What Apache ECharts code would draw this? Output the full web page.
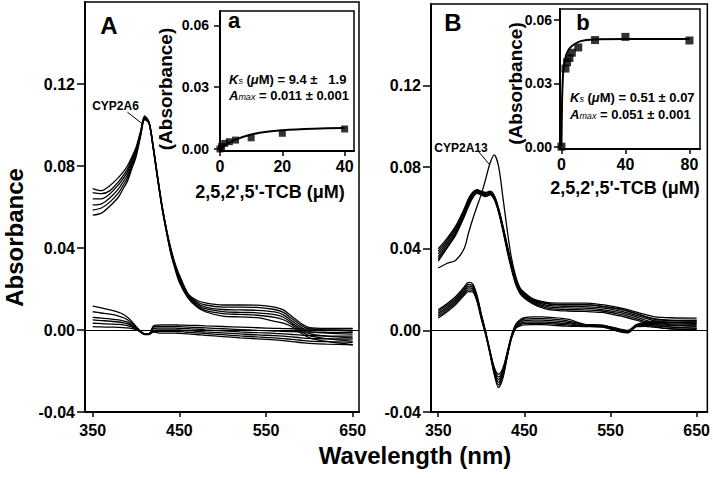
<!DOCTYPE html>
<html><head><meta charset="utf-8">
<script src="https://cdn.jsdelivr.net/npm/echarts@6/dist/echarts.min.js"></script>
<style>html,body{margin:0;padding:0;background:#fff}#c{width:713px;height:478px}</style>
</head><body><div id="c"></div>
<script>
// ---------- data ----------
const wl = [350,360,370,380,385,390,395,400,405,410,415,420,425,430,435,440,445,450,460,470,480,500,520,540,560,570,580,590,600,620,650];

// Panel A (CYP2A6) absolute spectra
const A_top_1 = [0.069,0.068,0.0705,0.0745,0.077,0.080,0.0843,0.089,0.0965,0.1045,0.1015,0.0893,0.0747,0.0608,0.0495,0.0400,0.0325,0.0268,0.0178,0.0145,0.0132,0.0122,0.0122,0.0121,0.0112,0.0098,0.0066,0.0033,0.0012,0.0008,0.0008];
const A_top_2 = [0.067,0.0665,0.068,0.0725,0.0752,0.0785,0.0832,0.0882,0.0960,0.1038,0.1013,0.0890,0.0744,0.0605,0.0492,0.0395,0.0320,0.0262,0.0172,0.0138,0.0122,0.0112,0.0112,0.0110,0.0100,0.0086,0.0055,0.0024,0.0005,0.0000,-0.0005];
const A_top_3 = [0.064,0.064,0.0665,0.0710,0.0738,0.0770,0.0822,0.0875,0.0955,0.1035,0.1012,0.0887,0.0741,0.0602,0.0489,0.0390,0.0315,0.0255,0.0168,0.0132,0.0112,0.0100,0.0098,0.0096,0.0088,0.0074,0.0044,0.0014,-0.0008,-0.0015,-0.0020];
const A_top_4 = [0.061,0.0615,0.0645,0.0690,0.0722,0.0755,0.0810,0.0865,0.0950,0.1032,0.1011,0.0884,0.0738,0.0600,0.0486,0.0385,0.0310,0.0248,0.0164,0.0126,0.0104,0.0090,0.0086,0.0084,0.0075,0.0062,0.0034,0.0005,-0.0018,-0.0030,-0.0038];
const A_top_5 = [0.0585,0.0595,0.0625,0.0670,0.0705,0.0740,0.0798,0.0855,0.0945,0.1029,0.1009,0.0881,0.0735,0.0597,0.0483,0.0380,0.0304,0.0240,0.0160,0.0120,0.0096,0.0080,0.0076,0.0072,0.0062,0.0050,0.0026,-0.0004,-0.0028,-0.0042,-0.0055];
const A_top_6 = [0.056,0.057,0.0605,0.0650,0.0688,0.0725,0.0785,0.0845,0.0940,0.1026,0.1008,0.0878,0.0732,0.0595,0.0480,0.0375,0.0298,0.0232,0.0156,0.0114,0.0089,0.0068,0.0064,0.0060,0.0042,0.0033,0.0016,-0.0014,-0.0038,-0.0056,-0.0072];

// Panel A difference spectra
const A_diff_1 = [0.0117,0.0108,0.0098,0.0086,0.0077,0.0062,0.0042,0.0018,-0.0005,-0.0018,-0.0018,0.0020,0.0024,0.0025,0.0025,0.0025,0.0025,0.0024,0.0023,0.0022,0.0020,0.0017,0.0014,0.0011,0.0008,0.0007,0.0006,0.0005,0.0004,0.0004,0.0005];
const A_diff_2 = [0.0089,0.0083,0.0077,0.0068,0.0061,0.0050,0.0034,0.0014,-0.0006,-0.0019,-0.0018,0.0014,0.0017,0.0017,0.0017,0.0017,0.0017,0.0016,0.0014,0.0012,0.0010,0.0006,0.0002,-0.0002,-0.0005,-0.0007,-0.0008,-0.0009,-0.0010,-0.0011,-0.0012];
const A_diff_3 = [0.0062,0.0058,0.0054,0.0049,0.0044,0.0038,0.0026,0.0010,-0.0007,-0.0020,-0.0019,0.0006,0.0009,0.0009,0.0009,0.0009,0.0009,0.0008,0.0006,0.0004,0.0001,-0.0004,-0.0009,-0.0013,-0.0016,-0.0019,-0.0022,-0.0025,-0.0027,-0.0029,-0.0030];
const A_diff_4 = [0.0049,0.0046,0.0043,0.0039,0.0035,0.0030,0.0021,0.0008,-0.0008,-0.0021,-0.0020,-0.0002,0.0001,0.0001,0.0001,0.0001,0.0001,0.0000,-0.0003,-0.0006,-0.0009,-0.0014,-0.0019,-0.0024,-0.0027,-0.0030,-0.0034,-0.0038,-0.0041,-0.0043,-0.0045];
const A_diff_5 = [0.0033,0.0031,0.0029,0.0027,0.0025,0.0021,0.0015,0.0005,-0.0009,-0.0021,-0.0021,-0.0006,-0.0007,-0.0007,-0.0007,-0.0007,-0.0007,-0.0008,-0.0011,-0.0014,-0.0017,-0.0023,-0.0029,-0.0034,-0.0038,-0.0042,-0.0046,-0.0050,-0.0054,-0.0057,-0.0060];
const A_diff_6 = [0.0016,0.0015,0.0014,0.0013,0.0012,0.0010,0.0007,0.0002,-0.0010,-0.0022,-0.0022,-0.0010,-0.0014,-0.0015,-0.0015,-0.0015,-0.0015,-0.0016,-0.0019,-0.0022,-0.0026,-0.0032,-0.0038,-0.0043,-0.0048,-0.0052,-0.0057,-0.0061,-0.0065,-0.0069,-0.0072];

// Panel B (CYP2A13) absolute spectra
const B_ref = [0.0306,0.0328,0.0343,0.0400,0.0475,0.0545,0.0607,0.0668,0.0740,0.0818,0.0860,0.0805,0.0655,0.0494,0.0355,0.0265,0.0208,0.0186,0.0152,0.0138,0.0130,0.0125,0.0125,0.0118,0.0105,0.0095,0.0082,0.0068,0.0055,0.0048,0.0045];
const B_top_1 = [0.0400,0.0450,0.0510,0.0595,0.0645,0.0678,0.0690,0.0682,0.0676,0.0682,0.0662,0.0600,0.0515,0.0420,0.0330,0.0255,0.0205,0.0182,0.0155,0.0142,0.0135,0.0134,0.0134,0.0126,0.0112,0.0102,0.0090,0.0078,0.0068,0.0062,0.0060];
const B_top_2 = [0.0388,0.0440,0.0500,0.0587,0.0638,0.0673,0.0687,0.0679,0.0672,0.0679,0.0658,0.0596,0.0510,0.0414,0.0324,0.0249,0.0200,0.0177,0.0150,0.0136,0.0128,0.0126,0.0126,0.0118,0.0104,0.0094,0.0082,0.0069,0.0058,0.0050,0.0048];
const B_top_3 = [0.0375,0.0430,0.0490,0.0578,0.0630,0.0668,0.0684,0.0676,0.0668,0.0676,0.0654,0.0592,0.0505,0.0408,0.0318,0.0243,0.0195,0.0172,0.0145,0.0130,0.0121,0.0118,0.0117,0.0110,0.0096,0.0086,0.0074,0.0060,0.0048,0.0038,0.0035];
const B_top_4 = [0.0362,0.0420,0.0480,0.0570,0.0622,0.0662,0.0680,0.0672,0.0664,0.0673,0.0650,0.0588,0.0500,0.0402,0.0312,0.0237,0.0190,0.0167,0.0140,0.0124,0.0114,0.0110,0.0109,0.0102,0.0088,0.0078,0.0066,0.0051,0.0038,0.0027,0.0022];
const B_top_5 = [0.0350,0.0410,0.0472,0.0562,0.0614,0.0656,0.0676,0.0668,0.0660,0.0669,0.0646,0.0584,0.0495,0.0396,0.0306,0.0231,0.0185,0.0162,0.0135,0.0118,0.0107,0.0102,0.0101,0.0095,0.0080,0.0070,0.0058,0.0043,0.0029,0.0016,0.0011];
const B_top_6 = [0.0340,0.0402,0.0465,0.0555,0.0606,0.0650,0.0672,0.0664,0.0656,0.0665,0.0642,0.0580,0.0490,0.0390,0.0300,0.0225,0.0180,0.0158,0.0130,0.0112,0.0101,0.0095,0.0093,0.0088,0.0072,0.0062,0.0050,0.0036,0.0020,0.0007,0.0003];

// Panel B difference spectra
const B_diff_1 = [0.0101,0.0130,0.0165,0.0212,0.0235,0.0228,0.0172,0.0080,-0.0005,-0.0098,-0.0180,-0.0215,-0.0185,-0.0108,-0.0025,0.0030,0.0052,0.0062,0.0066,0.0066,0.0064,0.0055,0.0030,0.0026,0.0008,0.0000,0.0028,0.0040,0.0045,0.0048,0.0050];
const B_diff_2 = [0.0093,0.0122,0.0157,0.0204,0.0226,0.0220,0.0166,0.0076,-0.0008,-0.0101,-0.0187,-0.0228,-0.0195,-0.0113,-0.0028,0.0026,0.0046,0.0055,0.0058,0.0058,0.0056,0.0047,0.0027,0.0024,0.0004,-0.0004,0.0026,0.0036,0.0040,0.0040,0.0040];
const B_diff_3 = [0.0085,0.0114,0.0149,0.0196,0.0217,0.0212,0.0160,0.0071,-0.0011,-0.0104,-0.0194,-0.0241,-0.0205,-0.0118,-0.0031,0.0022,0.0040,0.0048,0.0050,0.0050,0.0048,0.0040,0.0025,0.0022,0.0001,-0.0007,0.0024,0.0032,0.0034,0.0032,0.0030];
const B_diff_4 = [0.0077,0.0106,0.0141,0.0188,0.0208,0.0204,0.0154,0.0066,-0.0014,-0.0107,-0.0201,-0.0254,-0.0215,-0.0123,-0.0034,0.0018,0.0034,0.0041,0.0042,0.0042,0.0040,0.0033,0.0023,0.0020,-0.0002,-0.0009,0.0022,0.0028,0.0028,0.0024,0.0020];
const B_diff_5 = [0.0069,0.0098,0.0133,0.0180,0.0199,0.0196,0.0148,0.0061,-0.0017,-0.0110,-0.0208,-0.0267,-0.0225,-0.0128,-0.0037,0.0014,0.0028,0.0034,0.0035,0.0035,0.0033,0.0027,0.0021,0.0018,-0.0004,-0.0011,0.0020,0.0024,0.0022,0.0016,0.0010];
const B_diff_6 = [0.0061,0.0090,0.0125,0.0172,0.0190,0.0188,0.0142,0.0056,-0.0020,-0.0113,-0.0215,-0.0280,-0.0235,-0.0133,-0.0040,0.0010,0.0022,0.0027,0.0028,0.0028,0.0026,0.0021,0.0019,0.0016,-0.0006,-0.0012,0.0018,0.0020,0.0016,0.0008,0.0003];

// Inset a (CYP2A6 binding)
const tcbA_conc = [0, 0.5, 1.5, 3, 5, 10, 20, 40];
const tcbA_abs  = [0, 0.0012, 0.0027, 0.0035, 0.0043, 0.0054, 0.0076, 0.0097];
const fitA_x = [0, 2, 5, 10, 15, 20, 30, 40];
const fitA_y = [0, 0.0022, 0.0045, 0.0070, 0.0084, 0.0091, 0.0098, 0.0102];

// Inset b (CYP2A13 binding)
const tcbB_conc = [0, 2.5, 3.5, 5, 6.5, 10.5, 21, 40, 80];
const tcbB_abs  = [0, 0.037, 0.040, 0.042, 0.0445, 0.047, 0.0505, 0.052, 0.0503];
const fitB_x = [0, 0.4, 0.8, 1.2, 2, 3, 5, 8, 12, 20, 40, 80];
const fitB_y = [0, 0.022, 0.031, 0.036, 0.040, 0.0435, 0.0465, 0.0485, 0.050, 0.0508, 0.051, 0.051];

// tick values
const mainXTicks = [350, 450, 550, 650];
const mainYTicks = [-0.04, 0, 0.04, 0.08, 0.12];
const insetATicksX = [0, 20, 40];
const insetBTicksX = [0, 40, 80];
const insetYTicks = [0, 0.03, 0.06];

// ---------- chart ----------
const FF = '"Liberation Sans", Arial, Helvetica, sans-serif';
const chart = echarts.init(document.getElementById('c'), null, {renderer: 'svg'});
function pair(xs, ys) { return ys.map((v, i) => [xs[i], v]); }

function xAx(gi, min, max, ticks, fs, margin, tickLen) {
  return { type: 'value', gridIndex: gi, min: min, max: max,
    axisLine: { onZero: false, lineStyle: { color: '#000', width: 2 } },
    axisTick: { show: true, customValues: ticks, length: tickLen, lineStyle: { color: '#000', width: 1.5 } },
    axisLabel: { customValues: ticks, color: '#000', fontFamily: FF, fontWeight: 'bold', fontSize: fs, margin: margin },
    splitLine: { show: false } };
}
function yAx(gi, min, max, ticks, fs, margin, tickLen) {
  return { type: 'value', gridIndex: gi, min: min, max: max,
    axisLine: { onZero: false, lineStyle: { color: '#000', width: 2 } },
    axisTick: { show: true, customValues: ticks, length: tickLen, lineStyle: { color: '#000', width: 1.5 } },
    axisLabel: { customValues: ticks, color: '#000', fontFamily: FF, fontWeight: 'bold', fontSize: fs, margin: margin,
      formatter: v => (Math.abs(v) < 1e-9 ? 0 : v).toFixed(2) },
    splitLine: { show: false } };
}
function spec(arr, gi, extra) {
  return Object.assign({ type: 'line', xAxisIndex: gi, yAxisIndex: gi, data: pair(wl, arr),
    symbol: 'none', smooth: 0.3, silent: true, animation: false,
    lineStyle: { color: '#000', width: 1.3 } }, extra || {});
}
function guide(leader) {
  return { markLine: { silent: true, symbol: ['none', 'none'], label: { show: false }, animation: false,
    lineStyle: { color: '#000', width: 1, type: 'solid' },
    data: [ { yAxis: 0 }, leader ] } };
}

const series = [];
series.push(spec(A_top_1, 0, guide([{ coord: [390, 0.1063] }, { coord: [407.5, 0.1005] }])));
[A_top_2, A_top_3, A_top_4, A_top_5, A_top_6, A_diff_1, A_diff_2, A_diff_3, A_diff_4, A_diff_5, A_diff_6]
  .forEach(a => series.push(spec(a, 0)));
series.push(spec(B_ref, 1, guide([{ coord: [397, 0.0876] }, { coord: [409.7, 0.0812] }])));
[B_top_1, B_top_2, B_top_3, B_top_4, B_top_5, B_top_6, B_diff_1, B_diff_2, B_diff_3, B_diff_4, B_diff_5, B_diff_6]
  .forEach(a => series.push(spec(a, 1)));

series.push({ type: 'line', xAxisIndex: 2, yAxisIndex: 2, data: pair(fitA_x, fitA_y), symbol: 'none', smooth: 0.3,
  silent: true, animation: false, lineStyle: { color: '#000', width: 2 } });
series.push({ type: 'scatter', xAxisIndex: 2, yAxisIndex: 2, data: pair(tcbA_conc, tcbA_abs), symbol: 'rect', symbolSize: 7,
  silent: true, animation: false, itemStyle: { color: '#000' } });
series.push({ type: 'line', xAxisIndex: 3, yAxisIndex: 3, data: pair(fitB_x, fitB_y), symbol: 'none', smooth: 0.2,
  silent: true, animation: false, lineStyle: { color: '#000', width: 2 } });
series.push({ type: 'scatter', xAxisIndex: 3, yAxisIndex: 3, data: pair(tcbB_conc, tcbB_abs), symbol: 'rect', symbolSize: 8,
  silent: true, animation: false, itemStyle: { color: '#000' } });

function txt(s, x, y, size, opts) {
  opts = opts || {};
  return { type: 'text', x: x, y: y, rotation: opts.rot || 0, silent: true, z: 100,
    style: { text: s, fill: '#000', font: (opts.weight || 'bold') + ' ' + size + 'px ' + FF,
      textAlign: opts.align || 'center', textVerticalAlign: 'middle', align: opts.align || 'center', verticalAlign: 'middle',
      rich: opts.rich } };
}
const richKs = {
  k: { fontFamily: FF, fontWeight: 'bold', fontStyle: 'italic', fontSize: 13 },
  s: { fontFamily: FF, fontWeight: 'normal', fontStyle: 'italic', fontSize: 9, verticalAlign: 'bottom' },
  m: { fontFamily: FF, fontWeight: 'bold', fontStyle: 'italic', fontSize: 13 },
  n: { fontFamily: FF, fontWeight: 'bold', fontSize: 13 }
};

const graphic = [
  txt('Absorbance', 14.5, 237.5, 24, { rot: Math.PI / 2 }),
  txt('Wavelength (nm)', 415, 455, 24),
  txt('A', 109, 25, 24),
  txt('B', 453, 22.5, 24),
  txt('a', 234, 20.6, 22),
  txt('b', 583, 22, 22),
  txt('CYP2A6', 115.5, 106, 12),
  txt('CYP2A13', 461, 147.5, 12),
  txt('(Absorbance)', 165.5, 89, 19, { rot: Math.PI / 2 }),
  txt('(Absorbance)', 515.5, 83.5, 19, { rot: Math.PI / 2 }),
  txt("2,5,2',5'-TCB (\u03bcM)", 270, 192, 18),
  txt("2,5,2',5'-TCB (\u03bcM)", 625, 188, 18),
  txt('{k|K}{s|s}{n| (}{m|\u03bc}{n|M) = 9.4 \u00b1\u00a0\u00a0 1.9}', 229, 79, 13, { align: 'left', rich: richKs }),
  txt('{k|A}{s|max}{n| = 0.011 \u00b1 0.001}', 229, 95, 13, { align: 'left', rich: richKs }),
  txt('{k|K}{s|s}{n| (}{m|\u03bc}{n|M) = 0.51 \u00b1 0.07}', 570, 97, 13, { align: 'left', rich: richKs }),
  txt('{k|A}{s|max}{n| = 0.051 \u00b1 0.001}', 570, 114, 13, { align: 'left', rich: richKs })
];

const option = {
  animation: false,
  backgroundColor: '#fff',
  grid: [
    { left: 85, top: 2, width: 274, height: 410, show: true, borderColor: '#000', borderWidth: 1.5, backgroundColor: 'transparent' },
    { left: 431, top: 4, width: 278, height: 408, show: true, borderColor: '#000', borderWidth: 1.5, backgroundColor: 'transparent' },
    { left: 220, top: 11, width: 134, height: 140, show: true, borderColor: '#000', borderWidth: 1.5, backgroundColor: '#fff' },
    { left: 560, top: 9, width: 140, height: 140, show: true, borderColor: '#000', borderWidth: 1.5, backgroundColor: '#fff' }
  ],
  xAxis: [
    xAx(0, 341.1, 657.3, mainXTicks, 16, 10, 5),
    xAx(1, 341.6, 662.4, mainXTicks, 16, 10, 5),
    xAx(2, 0, 43, insetATicksX, 16, 7, 5),
    xAx(3, -0.9, 86.6, insetBTicksX, 16, 7, 5)
  ],
  yAxis: [
    yAx(0, -0.04, 0.16, mainYTicks, 16, 10, 8),
    yAx(1, -0.04, 0.16, mainYTicks, 16, 10, 8),
    yAx(2, -0.001, 0.067, insetYTicks, 14, 11, 6),
    yAx(3, -0.0011, 0.0652, insetYTicks, 14, 8, 6)
  ],
  series: series,
  graphic: graphic
};
chart.setOption(option);
</script>
</body></html>
